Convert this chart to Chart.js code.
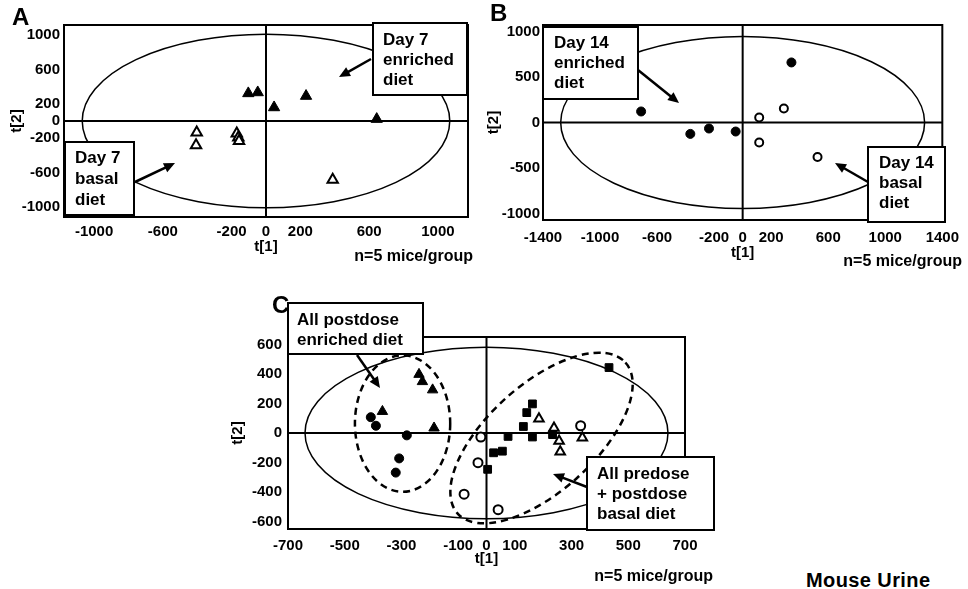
<!DOCTYPE html>
<html>
<head>
<meta charset="utf-8">
<script src="https://cdn.jsdelivr.net/npm/chart.js@4.4.0/dist/chart.umd.min.js"></script>
<style>
  body { margin: 0; background: #fff; width: 968px; height: 589px; position: relative; overflow: hidden; }
  canvas { position: absolute; }
  #caption { position: absolute; left: 806px; top: 569px; font: bold 20px "Liberation Sans", Arial, sans-serif; letter-spacing: 0.4px; color: #000; }
</style>
</head>
<body>
<canvas id="chartA" width="485" height="280" style="left:0;top:0"></canvas>
<canvas id="chartB" width="484" height="280" style="left:484px;top:0"></canvas>
<canvas id="chartC" width="500" height="299" style="left:220px;top:290px"></canvas>
<div id="caption">Mouse Urine</div>
<script>
const FONT = '"Liberation Sans", Arial, sans-serif';

// Panel A: day 7 scores [t1, t2]
const aXTicks = [-1000, -600, -200, 0, 200, 600, 1000];
const aYTicks = [1000, 600, 200, 0, -200, -600, -1000];
const aEnriched = [[-103, 322], [-48, 333], [47, 158], [233, 291], [644, 22]];
const aBasal = [[-403, -134], [-407, -282], [-170, -146], [-161, -193], [-157, -232], [388, -684]];

// Panel B: day 14 scores
const bXTicks = [-1400, -1000, -600, -200, 0, 200, 600, 1000, 1400];
const bYTicks = [1000, 500, 0, -500, -1000];
const bEnriched = [[-712, 121], [-367, -125], [-236, -66], [-49, -99], [342, 659]];
const bBasal = [[116, 55], [289, 154], [116, -220], [525, -378]];

// Panel C: all samples
const cXTicks = [-700, -500, -300, -100, 0, 100, 300, 500, 700];
const cYTicks = [600, 400, 200, 0, -200, -400, -600];
const cDay7Enriched = [[-238, 397], [-226, 348], [-190, 292], [-367, 146], [-185, 34]];
const cDay14Enriched = [[-408, 107], [-390, 49], [-281, -16], [-308, -172], [-320, -268]];
const cPredose = [[432, 443], [162, 197], [142, 138], [130, 44], [162, -27], [76, -23],
                  [56, -123], [25, -134], [4, -246], [233, -11]];
const cDay7Basal = [[185, 97], [238, 34], [256, -55], [260, -127], [338, -33]];
const cDay14Basal = [[-20, -27], [-30, -201], [-79, -414], [41, -519], [332, 49]];

function pts(arr) {
  return arr.map(p => ({ x: p[0], y: p[1] }));
}

function series(arr, style, filled, r) {
  return {
    data: pts(arr),
    pointStyle: style,
    pointRadius: r,
    backgroundColor: filled ? '#000' : '#fff',
    borderColor: '#000',
    borderWidth: filled ? 1 : 2
  };
}

const decoPlugin = {
  id: 'deco',
  beforeDatasetsDraw(chart, args, o) {
    const { ctx, chartArea: ca, scales: { x, y } } = chart;
    ctx.save();
    ctx.strokeStyle = '#000';
    ctx.lineWidth = 2;
    const x0 = x.getPixelForValue(0), y0 = y.getPixelForValue(0);
    ctx.beginPath();
    ctx.moveTo(x0, ca.top); ctx.lineTo(x0, ca.bottom);
    ctx.moveTo(ca.left, y0); ctx.lineTo(ca.right, y0);
    ctx.stroke();
    o.ellipses.forEach(e => {
      const cx = x.getPixelForValue(e.cx), cy = y.getPixelForValue(e.cy);
      const rx = Math.abs(x.getPixelForValue(e.cx + e.rx) - cx);
      const ry = Math.abs(y.getPixelForValue(e.cy + e.ry) - cy);
      ctx.setLineDash(e.dash || []);
      ctx.lineWidth = e.width;
      ctx.beginPath();
      ctx.ellipse(cx, cy, rx, ry, (e.rot || 0) * Math.PI / 180, 0, Math.PI * 2);
      ctx.stroke();
    });
    ctx.restore();
  },
  afterDraw(chart, args, o) {
    const { ctx, chartArea: ca } = chart;
    ctx.save();
    ctx.strokeStyle = '#000';
    ctx.fillStyle = '#000';
    ctx.lineWidth = 2;
    ctx.strokeRect(ca.left, ca.top, ca.width, ca.height);

    o.boxes.forEach(b => {
      ctx.fillStyle = '#fff';
      ctx.fillRect(b.x, b.y, b.w, b.h);
      ctx.lineWidth = 2;
      ctx.strokeRect(b.x, b.y, b.w, b.h);
      ctx.fillStyle = '#000';
      ctx.font = 'bold 17px ' + FONT;
      ctx.textAlign = 'left';
      ctx.textBaseline = 'middle';
      b.lines.forEach((t, i) => ctx.fillText(t, b.tx, b.ys[i]));
      // arrow
      const [x1, y1, x2, y2] = b.arrow;
      const ang = Math.atan2(y2 - y1, x2 - x1);
      ctx.lineWidth = 2.5;
      ctx.beginPath();
      ctx.moveTo(x1, y1);
      ctx.lineTo(x2 - 6 * Math.cos(ang), y2 - 6 * Math.sin(ang));
      ctx.stroke();
      ctx.beginPath();
      ctx.moveTo(x2, y2);
      ctx.lineTo(x2 - 11 * Math.cos(ang) + 5 * Math.sin(ang), y2 - 11 * Math.sin(ang) - 5 * Math.cos(ang));
      ctx.lineTo(x2 - 11 * Math.cos(ang) - 5 * Math.sin(ang), y2 - 11 * Math.sin(ang) + 5 * Math.cos(ang));
      ctx.closePath();
      ctx.fill();
    });

    ctx.font = 'bold 16px ' + FONT;
    ctx.textAlign = 'right';
    ctx.textBaseline = 'middle';
    ctx.fillText('n=5 mice/group', o.note[0], o.note[1]);

    ctx.font = 'bold 24px ' + FONT;
    ctx.textAlign = 'left';
    ctx.fillText(o.letter[0], o.letter[1], o.letter[2]);
    ctx.restore();
  }
};

function makeChart(id, cfg) {
  const tickFont = { family: FONT, size: 15, weight: 'bold' };
  return new Chart(document.getElementById(id), {
    type: 'scatter',
    data: { datasets: cfg.datasets },
    options: {
      responsive: false,
      animation: false,
      events: [],
      layout: { padding: cfg.padding },
      plugins: { legend: { display: false }, tooltip: { enabled: false }, deco: cfg.deco },
      scales: {
        x: {
          type: 'linear', min: cfg.xRange[0], max: cfg.xRange[1],
          grid: { display: false, drawTicks: false }, border: { display: false },
          afterBuildTicks: s => { s.ticks = cfg.xTicks.map(v => ({ value: v })); },
          afterFit: s => { s.height = cfg.xH; },
          ticks: { autoSkip: false, maxRotation: 0, color: '#000', font: tickFont, padding: cfg.xPad, callback: v => String(v) },
          title: { display: true, text: 't[1]', color: '#000', font: tickFont, padding: 0 }
        },
        y: {
          type: 'linear', min: cfg.yRange[0], max: cfg.yRange[1],
          grid: { display: false, drawTicks: false }, border: { display: false },
          afterBuildTicks: s => { s.ticks = cfg.yTicks.map(v => ({ value: v })); },
          afterFit: s => { s.width = cfg.yW; },
          ticks: { autoSkip: false, color: '#000', font: tickFont, padding: cfg.yPad, callback: v => String(v) },
          title: { display: true, text: 't[2]', color: '#000', font: tickFont, padding: 0 }
        }
      }
    },
    plugins: [decoPlugin]
  });
}

makeChart('chartA', {
  xRange: [-1175, 1175], yRange: [-1120, 1120],
  xTicks: aXTicks, yTicks: aYTicks,
  padding: { left: 8, top: 25, right: 17, bottom: 24 },
  xH: 39, yW: 56, xPad: 6, yPad: 4,
  datasets: [series(aBasal, 'triangle', false, 6), series(aEnriched, 'triangle', true, 6.5)],
  deco: {
    ellipses: [{ cx: 0, cy: 0, rx: 1069, ry: 1012, width: 1.5 }],
    boxes: [
      { x: 373, y: 23, w: 94, h: 72, tx: 383, ys: [40, 60, 80], lines: ['Day 7', 'enriched', 'diet'], arrow: [371, 59, 339, 77] },
      { x: 65, y: 142, w: 69, h: 73, tx: 75, ys: [158, 179, 200], lines: ['Day 7', 'basal', 'diet'], arrow: [135, 182, 175, 163] }
    ],
    note: [473, 257],
    letter: ['A', 12, 18]
  }
});

makeChart('chartB', {
  xRange: [-1400, 1400], yRange: [-1070, 1070],
  xTicks: bXTicks, yTicks: bYTicks,
  padding: { left: 1, top: 25, right: 21, bottom: 18 },
  xH: 42, yW: 58, xPad: 9, yPad: 3,
  datasets: [series(bBasal, 'circle', false, 4), series(bEnriched, 'circle', true, 4.5)],
  deco: {
    ellipses: [{ cx: 0, cy: 0, rx: 1276, ry: 943, width: 1.5 }],
    boxes: [
      { x: 59, y: 27, w: 95, h: 72, tx: 70, ys: [43, 63, 83], lines: ['Day 14', 'enriched', 'diet'], arrow: [154, 70, 195, 103] },
      { x: 384, y: 147, w: 77, h: 75, tx: 395, ys: [163, 183, 203], lines: ['Day 14', 'basal', 'diet'], arrow: [384, 182, 351, 163] }
    ],
    note: [478, 262],
    letter: ['B', 6, 14]
  }
});

makeChart('chartC', {
  xRange: [-700, 700], yRange: [-650, 650],
  xTicks: cXTicks, yTicks: cYTicks,
  padding: { left: 9, top: 47, right: 35, bottom: 21 },
  xH: 39, yW: 59, xPad: 8, yPad: 6,
  datasets: [
    series(cPredose, 'rect', true, 5.5),
    series(cDay14Basal, 'circle', false, 4.5),
    series(cDay7Basal, 'triangle', false, 5.5),
    series(cDay14Enriched, 'circle', true, 4.5),
    series(cDay7Enriched, 'triangle', true, 6)
  ],
  deco: {
    ellipses: [
      { cx: 0, cy: 0, rx: 640, ry: 580, width: 1.5 },
      { cx: -296, cy: 64, rx: 168, ry: 462, width: 2.5, dash: [7, 5] },
      { cx: 194, cy: -34, rx: 398, ry: 362, rot: -42, width: 2.5, dash: [7, 5] }
    ],
    boxes: [
      { x: 68, y: 13, w: 135, h: 51, tx: 77, ys: [30, 50], lines: ['All postdose', 'enriched diet'], arrow: [137, 65, 160, 98] },
      { x: 367, y: 167, w: 127, h: 73, tx: 377, ys: [184, 204, 224], lines: ['All predose', '+ postdose', 'basal diet'], arrow: [367, 197, 333, 184] }
    ],
    note: [493, 287],
    letter: ['C', 52, 16]
  }
});
</script>
</body>
</html>
